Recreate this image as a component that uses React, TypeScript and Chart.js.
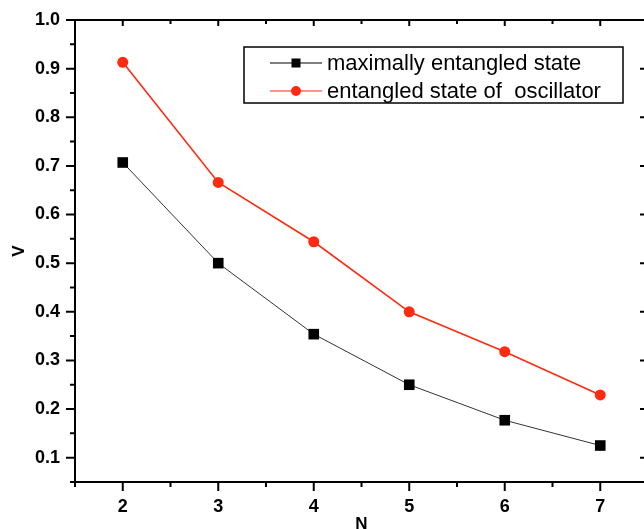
import { useEffect, useRef } from "react";
import { Chart, registerables } from "chart.js";
Chart.register(...registerables);

const nValues = [2, 3, 4, 5, 6, 7];
const maxEntangled = [0.707, 0.5, 0.354, 0.25, 0.177, 0.125];
const oscillator = [0.913, 0.666, 0.544, 0.4, 0.318, 0.229];
const xTickValues = [2, 3, 4, 5, 6, 7];
const yTickValues = [0.1, 0.2, 0.3, 0.4, 0.5, 0.6, 0.7, 0.8, 0.9, 1.0];
const seriesLabels = ["maximally entangled state", "entangled state of  oscillator"];
const xTitle = "N";
const yTitle = "V";

const RED = "#ff2a10";
const FONT = "Arial, 'Liberation Sans', sans-serif";

const framePlugin = {
  id: "frameAndLegend",
  afterDraw(chart: any) {
    const { ctx, chartArea } = chart;
    const { left, right, top, bottom } = chartArea;
    const xs = chart.scales.x;
    const ys = chart.scales.y;
    ctx.save();
    ctx.strokeStyle = "#000";
    ctx.lineWidth = 2;
    ctx.strokeRect(left, top, right - left, bottom - top);
    ctx.beginPath();
    for (let v = 1.5; v <= 7.5001; v += 0.5) {
      const px = xs.getPixelForValue(v);
      const major = Math.abs(v - Math.round(v)) < 1e-6;
      ctx.moveTo(px, bottom);
      ctx.lineTo(px, bottom + (major ? 9 : 5));
      ctx.moveTo(px, top);
      ctx.lineTo(px, top + (major ? 6 : 4));
    }
    for (let i = 1; i <= 20; i++) {
      const v = i * 0.05;
      const py = ys.getPixelForValue(v);
      const major = i % 2 === 0;
      ctx.moveTo(left, py);
      ctx.lineTo(left - (major ? 9 : 5), py);
      ctx.moveTo(right, py);
      ctx.lineTo(right - (major ? 8 : 4), py);
    }
    ctx.stroke();

    // legend
    const bx = left + 169;
    const by = top + 27;
    const bw = 379;
    const bh = 56;
    ctx.lineWidth = 1.5;
    ctx.strokeRect(bx, by, bw, bh);
    const rows = [
      { y: by + 16, color: "#000", label: seriesLabels[0], style: "rect" },
      { y: by + 44, color: RED, label: seriesLabels[1], style: "circle" },
    ];
    ctx.font = `22px ${FONT}`;
    ctx.textBaseline = "middle";
    ctx.textAlign = "left";
    for (const r of rows) {
      ctx.strokeStyle = r.color;
      ctx.lineWidth = 1.2;
      ctx.beginPath();
      ctx.moveTo(bx + 26, r.y);
      ctx.lineTo(bx + 78, r.y);
      ctx.stroke();
      ctx.fillStyle = r.color;
      if (r.style === "rect") {
        ctx.fillRect(bx + 52 - 4.5, r.y - 4.5, 9, 9);
      } else {
        ctx.beginPath();
        ctx.arc(bx + 52, r.y, 5, 0, Math.PI * 2);
        ctx.fill();
      }
      ctx.fillStyle = "#000";
      ctx.fillText(r.label, bx + 83, r.y + 1);
    }
    ctx.restore();
  },
};

export default function App() {
  const ref = useRef<HTMLCanvasElement>(null);
  useEffect(() => {
    document.body.style.margin = "0";
    const canvas = ref.current!;
    const chart = new Chart(canvas, {
      type: "line",
      data: {
        datasets: [
          {
            label: seriesLabels[0],
            data: nValues.map((n, i) => ({ x: n, y: maxEntangled[i] })),
            borderColor: "#333",
            backgroundColor: "#000",
            borderWidth: 1,
            pointStyle: "rect",
            pointRadius: 7.5,
            pointBorderWidth: 0,
            pointBackgroundColor: "#000",
          },
          {
            label: seriesLabels[1],
            data: nValues.map((n, i) => ({ x: n, y: oscillator[i] })),
            borderColor: RED,
            backgroundColor: RED,
            borderWidth: 1.6,
            pointStyle: "circle",
            pointRadius: 5.5,
            pointBorderWidth: 0,
            pointBackgroundColor: RED,
          },
        ],
      },
      options: {
        responsive: false,
        animation: false,
        layout: { padding: { top: 20, right: 12, left: 0, bottom: 0 } },
        plugins: { legend: { display: false }, tooltip: { enabled: false } },
        scales: {
          x: {
            type: "linear",
            min: 1.5,
            max: 7.5,
            grid: { display: false, drawTicks: false },
            border: { display: false },
            afterBuildTicks: (s: any) => {
              s.ticks = xTickValues.map((v) => ({ value: v }));
            },
            afterFit: (s: any) => {
              s.height = 57;
              s.paddingLeft = 0;
              s.paddingRight = 0;
            },
            ticks: {
              padding: 14,
              color: "#000",
              font: { family: FONT, size: 18, weight: "bold" },
              callback: (v: any) => String(v),
            },
            title: {
              display: true,
              text: xTitle,
              color: "#000",
              font: { family: FONT, size: 17, weight: "bold" },
            },
          },
          y: {
            type: "linear",
            min: 0.05,
            max: 1.0,
            grid: { display: false, drawTicks: false },
            border: { display: false },
            afterBuildTicks: (s: any) => {
              s.ticks = yTickValues.map((v) => ({ value: v }));
            },
            afterFit: (s: any) => {
              s.width = 75;
              s.paddingTop = 0;
              s.paddingBottom = 0;
            },
            ticks: {
              padding: 15,
              color: "#000",
              font: { family: FONT, size: 18, weight: "bold" },
              callback: (v: any) => Number(v).toFixed(1),
            },
            title: {
              display: true,
              text: yTitle,
              color: "#000",
              padding: { top: 9, bottom: 4 },
              font: { family: FONT, size: 17, weight: "bold" },
            },
          },
        },
      },
      plugins: [framePlugin],
    });
    return () => chart.destroy();
  }, []);
  return (
    <div style={{ width: 644, height: 529, overflow: "hidden", background: "#fff" }}>
      <canvas ref={ref} width={660} height={539} style={{ display: "block" }} />
    </div>
  );
}
